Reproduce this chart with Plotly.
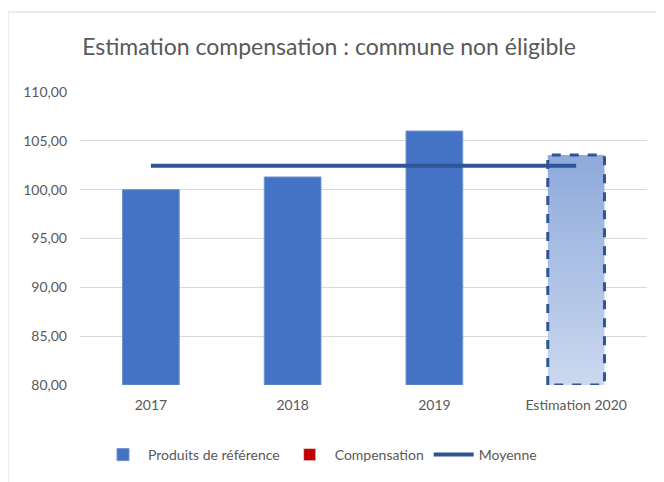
import plotly.graph_objects as go

categories = ["2017", "2018", "2019", "Estimation 2020"]
produits = [100.00, 101.30, 106.00, None]
compensation = [None, None, None, None]
estimation_2020 = 103.55
moyenne = 102.45
y_ticks = [80, 85, 90, 95, 100, 105, 110]

FONT = "Lato, 'Open Sans', sans-serif"
GREY = "#595959"
BLUE = "#4472c4"
DARK = "#2f5597"
BAR_W = 0.4

xs = list(range(len(categories)))
y_min = y_ticks[0]

fig = go.Figure()

fig.add_trace(go.Bar(
    name="Produits de référence", x=xs, y=[None if v is None else v - y_min for v in produits],
    base=y_min, width=BAR_W,
    marker=dict(color=BLUE, line=dict(color="#6f93d3", width=1)),
))
fig.add_trace(go.Bar(
    name="Compensation", x=xs, y=compensation, base=y_min, width=BAR_W,
    marker=dict(color="#c00000"),
))

# Estimation 2020 bar: gradient fill with dashed outline
i = 3
xl, xr = xs[i] - BAR_W / 2, xs[i] + BAR_W / 2
fig.add_trace(go.Scatter(
    x=[xl, xl, xr, xr, xl], y=[y_min, estimation_2020, estimation_2020, y_min, y_min],
    mode="lines", fill="toself",
    fillgradient=dict(type="vertical", colorscale=[[0, "#cbd8ef"], [1, "#8eaadb"]]),
    line=dict(color=DARK, width=3, dash="dash"),
    showlegend=False, hoverinfo="skip",
))

fig.add_trace(go.Scatter(
    name="Moyenne", x=[xs[0], xs[-1]], y=[moyenne, moyenne],
    mode="lines", line=dict(color=DARK, width=4),
))

fig.update_layout(
    width=664, height=482,
    margin=dict(l=72, r=25, t=84, b=105),
    paper_bgcolor="white", plot_bgcolor="white",
    separators=", ",
    barmode="overlay",
    font=dict(family=FONT, color=GREY, size=14),
    title=dict(text="Estimation compensation : commune non éligible",
               x=321 / 664, xanchor="center", y=1 - 39 / 482, yanchor="middle",
               font=dict(size=23, color=GREY, family=FONT)),
    xaxis=dict(range=[-0.5, 3.5], tickvals=xs, ticktext=categories,
               showgrid=False, zeroline=False, showline=False, ticks="",
               ticklabelstandoff=10,
               tickfont=dict(size=14, color=GREY)),
    yaxis=dict(range=[80, 110], tickvals=y_ticks, tickformat=".2f",
               showgrid=True, gridcolor="#d9d9d9", gridwidth=1,
               zeroline=False, showline=False, ticks="",
               ticklabelstandoff=12,
               tickfont=dict(size=14, color=GREY)),
    legend=dict(orientation="h", xref="container", yref="container",
                x=312 / 664, xanchor="center", y=1 - 447 / 482, yanchor="middle",
                font=dict(size=14, color=GREY), traceorder="normal",
                itemwidth=40),
    showlegend=True,
    shapes=[dict(type="rect", xref="paper", yref="paper",
                 x0=(0 - 72) / 567, x1=2, y0=-2, y1=(377 - 4) / 293,
                 line=dict(color="#d9d9d9", width=1), fillcolor="rgba(0,0,0,0)",
                 layer="below")],
)

fig.write_html("out.html")
